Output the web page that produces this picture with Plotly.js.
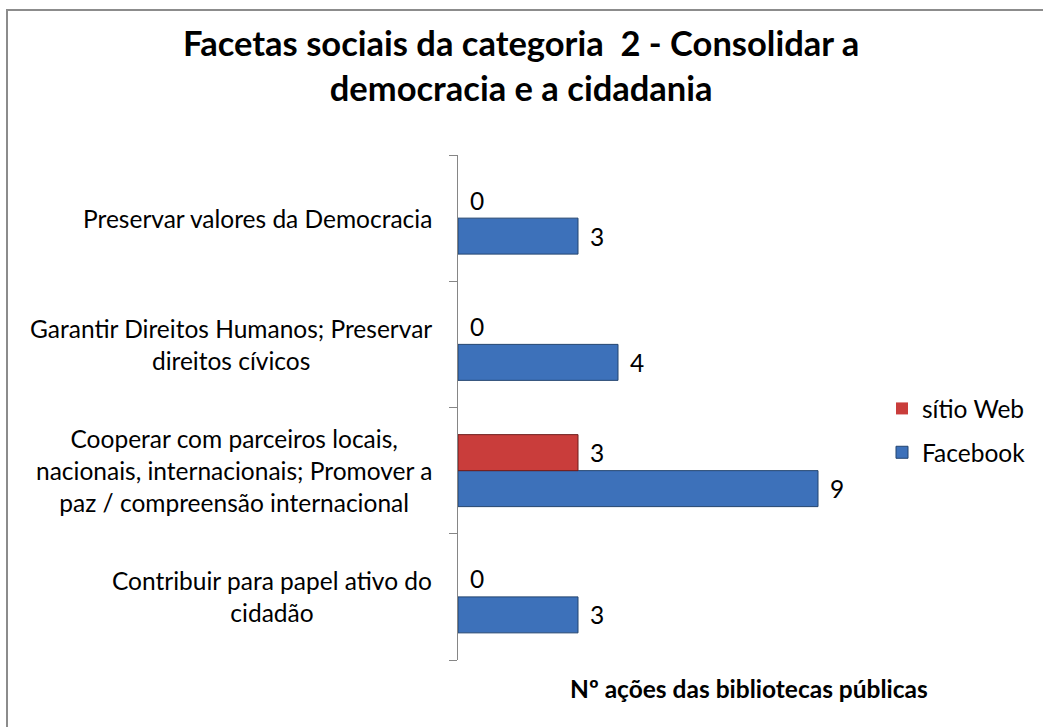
<!DOCTYPE html>
<html>
<head>
<meta charset="utf-8">
<script src="https://cdn.plot.ly/plotly-3.0.1.min.js"></script>
<style>
  html, body { margin: 0; padding: 0; background: #ffffff; }
  #wrap { position: relative; width: 1043px; height: 727px; }
  #chart { position: absolute; left: 0; top: 0; width: 1043px; height: 727px; }
  #frame { position: absolute; left: 6px; top: 9px; width: 1100px; height: 800px;
           border-left: 2px solid #8c8c8c; border-top: 2px solid #8c8c8c; pointer-events: none; }
</style>
</head>
<body>
<div id="wrap">
  <div id="chart"></div>
  <div id="frame"></div>
</div>
<script>
// Categories from bottom to top
const categories = [
  "Contribuir para papel ativo do<br>cidadão",
  "Cooperar com parceiros locais,<br>nacionais, internacionais; Promover a<br>paz / compreensão internacional",
  "Garantir Direitos Humanos; Preservar<br>direitos cívicos",
  "Preservar valores da Democracia"
];
const facebook = [3, 9, 4, 3];
const sitioWeb = [0, 3, 0, 0];
const seriesNames = ["Facebook", "sítio Web"];
const chartTitle = "<b>Facetas sociais da categoria  2 - Consolidar a<br>democracia e a cidadania</b>";
const axisTitle = "<b>Nº ações das bibliotecas públicas</b>";

const FONT = "Lato, 'Liberation Sans', sans-serif";
const FS = 24.5;
const bargap = 0.43;
const idx = categories.map((c, i) => i);
const boundaries = [-0.5].concat(idx.map(i => i + 0.5));

const traces = [
  {
    type: "bar", orientation: "h", name: seriesNames[0],
    x: facebook, y: idx, legendgroup: "a", legendrank: 2,
    marker: { color: "#3d71ba", line: { color: "#22446f", width: facebook.map(v => v ? 1 : 0) } },
    hoverinfo: "x"
  },
  {
    type: "bar", orientation: "h", name: seriesNames[1],
    x: sitioWeb, y: idx, legendgroup: "b", legendrank: 1,
    marker: { color: "#c93d3b", line: { color: "#6e1c1b", width: sitioWeb.map(v => v ? 1 : 0) } },
    hoverinfo: "x"
  }
];

const off = (1 - bargap) / 4;
const annotations = [];
// chart title
annotations.push({
  xref: "paper", yref: "paper", x: (521 - 458) / 400, y: (660 - 65) / 505,
  text: chartTitle, xanchor: "center", yanchor: "middle", align: "center", showarrow: false,
  font: { family: FONT, size: 34.5, color: "#000000" }
});
// category labels
categories.forEach((c, i) => {
  annotations.push({
    xref: "paper", yref: "y", x: -0.06, y: i, text: c,
    xanchor: "right", yanchor: "middle", align: "center", showarrow: false,
    font: { family: FONT, size: FS, color: "#000000" }
  });
});
// value labels
facebook.forEach((v, i) => {
  annotations.push({
    xref: "x", yref: "y", x: v, y: i - off, text: String(v),
    xanchor: "left", yanchor: "middle", xshift: 10, showarrow: false,
    font: { family: FONT, size: FS, color: "#000000" }
  });
});
sitioWeb.forEach((v, i) => {
  annotations.push({
    xref: "x", yref: "y", x: v, y: i + off, text: String(v),
    xanchor: "left", yanchor: "middle", xshift: 10, showarrow: false,
    font: { family: FONT, size: FS, color: "#000000" }
  });
});
// axis title
annotations.push({
  xref: "paper", yref: "paper", x: (749 - 458) / 400, y: (660 - 688) / 505,
  text: axisTitle, xanchor: "center", yanchor: "middle", showarrow: false,
  font: { family: FONT, size: FS, color: "#000000" }
});

const layout = {
  width: 1043, height: 727,
  margin: { l: 458, r: 185, t: 155, b: 67, pad: 0, autoexpand: false },
  paper_bgcolor: "#ffffff", plot_bgcolor: "#ffffff",
  font: { family: FONT, size: FS, color: "#000000" },
  barmode: "group", bargap: bargap, bargroupgap: 0,
  xaxis: {
    range: [0, 10], showgrid: false, zeroline: false, showline: false,
    showticklabels: false, ticks: "", fixedrange: true
  },
  yaxis: {
    range: [-0.5, 3.5], tickmode: "array", tickvals: boundaries, ticktext: boundaries.map(() => ""),
    showgrid: false, zeroline: false, showline: true, linecolor: "#868686", linewidth: 1,
    ticks: "outside", ticklen: 8, tickcolor: "#868686", tickwidth: 1,
    showticklabels: false, fixedrange: true
  },
  legend: {
    xref: "container", yref: "container",
    x: 882 / 1043, xanchor: "left", y: 1 - 386 / 727, yanchor: "top",
    traceorder: "grouped", tracegroupgap: 9,
    font: { family: FONT, size: FS, color: "#000000" },
    bgcolor: "rgba(0,0,0,0)"
  },
  annotations: annotations,
  showlegend: true
};

Plotly.newPlot("chart", traces, layout, { displayModeBar: false, staticPlot: true });
</script>
</body>
</html>
